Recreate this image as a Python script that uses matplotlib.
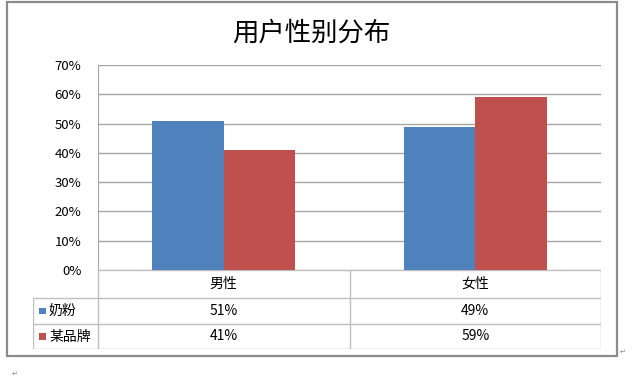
import matplotlib.pyplot as plt
from matplotlib.patches import Rectangle

plt.rcParams['font.family'] = ['Noto Sans CJK SC', 'DejaVu Sans']

# data
categories = ['男性', '女性']
series_names = ['奶粉', '某品牌']
naifen = [0.51, 0.49]
moupinpai = [0.41, 0.59]
series_values = [naifen, moupinpai]
colors = ['#4F81BD', '#C0504D']
yticks = [0, 0.1, 0.2, 0.3, 0.4, 0.5, 0.6, 0.7]

W, H = 640, 379
fig = plt.figure(figsize=(6.4, 3.79), dpi=100)
fig.patch.set_facecolor('white')

# outer chart frame
fig.patches.append(Rectangle((7 / W, 1 - 356 / H), 610 / W, 354 / H,
                             transform=fig.transFigure, fill=False,
                             edgecolor='#8C8C8C', lw=1.6))

fig.text(311 / W, 1 - 33 / H, '用户性别分布', ha='center', va='center', fontsize=19)

# bar area
ax = fig.add_axes([98 / W, 1 - 270 / H, 503 / W, 205 / H])
x = range(len(categories))
bw = 0.285
for i, (name, vals, c) in enumerate(zip(series_names, series_values, colors)):
    offs = (i - 0.5) * bw
    ax.bar([k + offs for k in x], vals, width=bw, color=c, zorder=3)

ax.set_xlim(-0.5, 1.5)
ax.set_ylim(0, 0.7)
ax.set_yticks(yticks)
ax.set_yticklabels([f'{int(round(t * 100))}%' for t in yticks], fontsize=9.5)
ax.set_xticks([])
ax.tick_params(axis='y', length=0, pad=12)
ax.yaxis.grid(True, color='#A6A6A6', lw=1.0, zorder=0)
for s in ['top', 'right', 'bottom']:
    ax.spines[s].set_visible(False)
ax.spines['left'].set_color('#A6A6A6')

# data table below
lc = '#BFBFBF'
leg_w = 65 / 251.5
tx = fig.add_axes([33 / W, 1 - 349 / H, 568 / W, 79 / H])
tx.set_xlim(-0.5 - leg_w, 1.5)
tx.set_ylim(3, 0)
tx.axis('off')
row_h = [0, 28 / 79 * 3, 54 / 79 * 3, 3]
# horizontal lines
tx.plot([-0.5, 1.5], [row_h[0]] * 2, color=lc, lw=1)
for r in row_h[1:]:
    tx.plot([-0.5 - leg_w, 1.5], [r] * 2, color=lc, lw=1)
# vertical lines
tx.plot([-0.5 - leg_w] * 2, [row_h[1], row_h[3]], color=lc, lw=1)
for xv in [-0.5, 0.5, 1.5]:
    tx.plot([xv] * 2, [row_h[0], row_h[3]], color=lc, lw=1)

for k, cat in enumerate(categories):
    tx.text(k, (row_h[0] + row_h[1]) / 2, cat, ha='center', va='center', fontsize=10)
for i, (name, vals, c) in enumerate(zip(series_names, series_values, colors)):
    yc = (row_h[i + 1] + row_h[i + 2]) / 2
    sq = 7 / 251.5
    tx.add_patch(Rectangle((-0.5 - leg_w + 6 / 251.5, yc - 0.13), sq, 0.26,
                           facecolor=c, edgecolor='none'))
    tx.text(-0.5 - leg_w + 16 / 251.5, yc, name, ha='left', va='center', fontsize=10)
    for k, v in enumerate(vals):
        tx.text(k, yc, f'{int(round(v * 100))}%', ha='center', va='center', fontsize=10)

# document paragraph marks
fig.text(620 / W, 1 - 352 / H, '↵', fontsize=5, color='#888888', ha='left', va='center')
fig.text(12 / W, 1 - 374 / H, '↵', fontsize=5, color='#888888', ha='left', va='center')

fig.savefig('out.png', dpi=100)
